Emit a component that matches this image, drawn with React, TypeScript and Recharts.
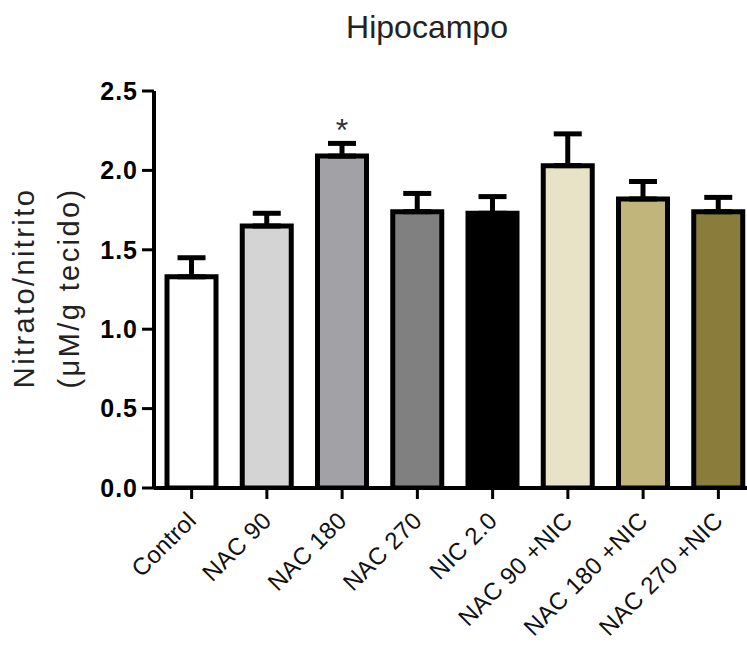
import React from "react";
import { BarChart, Bar, XAxis, YAxis, Cell, ErrorBar, LabelList } from "recharts";

const categories = ["Control", "NAC 90", "NAC 180", "NAC 270", "NIC 2.0", "NAC 90 +NIC", "NAC 180 +NIC", "NAC 270 +NIC"];
const means = [1.33, 1.65, 2.09, 1.74, 1.73, 2.03, 1.82, 1.74];
const sem = [0.12, 0.08, 0.08, 0.115, 0.105, 0.2, 0.11, 0.09];
const significance = ["", "", "*", "", "", "", "", ""];
const barColors = ["#ffffff", "#d4d4d4", "#a2a1a5", "#808080", "#000000", "#e8e3c6", "#c1b57c", "#8a7d3c"];
const yTicks = [0, 0.5, 1.0, 1.5, 2.0, 2.5];

const data = categories.map((name, i) => ({
  name,
  value: means[i],
  err: [0, sem[i]],
  sig: significance[i],
}));

const FONT = "'Liberation Sans', Arial, sans-serif";

const XTick = (props: any) => {
  const { x, y, payload } = props;
  return (
    <g transform={`translate(${x + 6},${y + 21})`}>
      <text
        x={0}
        y={0}
        textAnchor="end"
        transform="rotate(-45)"
        fontFamily={FONT}
        fontSize={24}
        letterSpacing={0.3}
        fill="#111"
      >
        {payload.value}
      </text>
    </g>
  );
};

const SigLabel = (props: any) => {
  const { x, y, width, value } = props;
  if (!value) return null;
  return (
    <text x={x + width / 2} y={y - 15} textAnchor="middle" fontFamily={FONT} fontSize={32} fill="#333">
      {value}
    </text>
  );
};

export default function App() {
  return (
    <div style={{ position: "absolute", left: 0, top: 0, width: 747, height: 648, overflow: "hidden", background: "#fff" }}>
      <BarChart
        width={760}
        height={648}
        data={data}
        margin={{ top: 91, right: 4, bottom: 0, left: 0 }}
        barSize={49}
      >
        <XAxis
          dataKey="name"
          height={160}
          interval={0}
          tick={<XTick />}
          tickSize={11}
          tickMargin={2}
          axisLine={{ stroke: "#000", strokeWidth: 4 }}
          tickLine={{ stroke: "#000", strokeWidth: 3 }}
        />
        <YAxis
          width={154}
          domain={[0, 2.5]}
          ticks={yTicks}
          tickFormatter={(v: number) => v.toFixed(1)}
          tickSize={12}
          tickMargin={4}
          axisLine={{ stroke: "#000", strokeWidth: 4 }}
          tickLine={{ stroke: "#000", strokeWidth: 3 }}
          tick={{ fontFamily: FONT, fontSize: 25, fontWeight: "bold", fill: "#000", letterSpacing: 1 }}
          allowDataOverflow
        />
        <Bar dataKey="value" stroke="#000" strokeWidth={5} isAnimationActive={false}>
          {data.map((d, i) => (
            <Cell key={d.name} fill={barColors[i]} />
          ))}
          <ErrorBar dataKey="err" width={14} strokeWidth={5} stroke="#000" direction="y" isAnimationActive={false} />
          <LabelList dataKey="sig" content={<SigLabel />} />
        </Bar>
      </BarChart>
      <svg
        width={747}
        height={648}
        style={{ position: "absolute", left: 0, top: 0, pointerEvents: "none" }}
      >
        <text x={427} y={38} textAnchor="middle" fontFamily={FONT} fontSize={32} fill="#222">
          Hipocampo
        </text>
        <text
          transform="translate(34,288) rotate(-90)"
          textAnchor="middle"
          fontFamily={FONT}
          fontSize={29}
          letterSpacing={2.4}
          fill="#222"
        >
          Nitrato/nitrito
        </text>
        <text
          transform="translate(79,288) rotate(-90)"
          textAnchor="middle"
          fontFamily={FONT}
          fontSize={29}
          letterSpacing={2.4}
          fill="#222"
        >
          (μM/g tecido)
        </text>
      </svg>
    </div>
  );
}
